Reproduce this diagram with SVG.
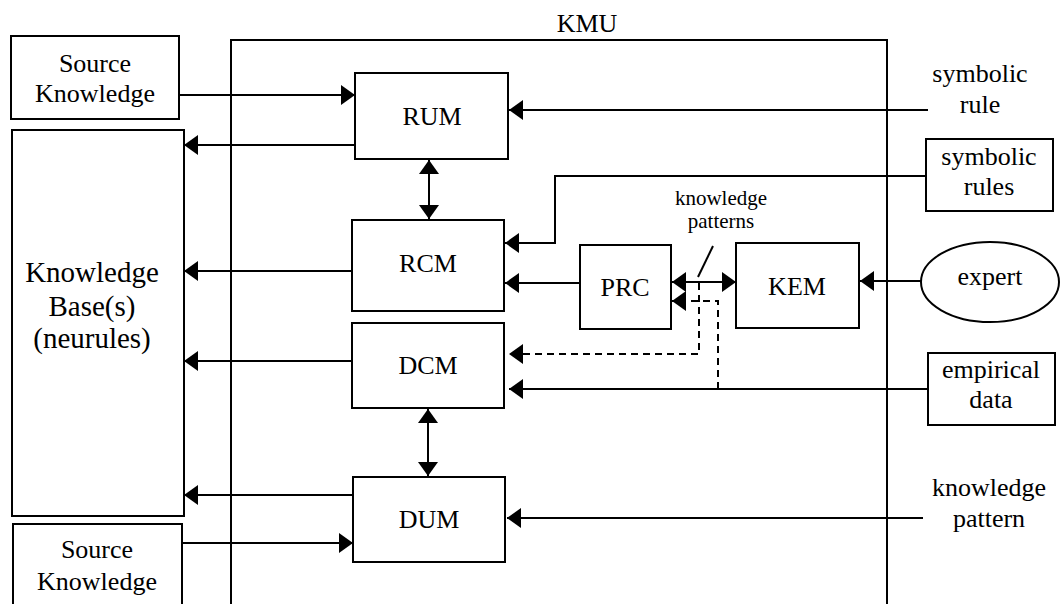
<svg xmlns="http://www.w3.org/2000/svg" width="1060" height="604" viewBox="0 0 1060 604" font-family="'Liberation Serif', 'Times New Roman', 'DejaVu Serif', serif">
<style>
text{font-family:'Liberation Serif','Times New Roman','DejaVu Serif',serif;font-size:26px;fill:#000;text-anchor:middle}
.kb{font-size:29px}
.sm{font-size:21px}
.box{fill:#fff;stroke:#000;stroke-width:2}
.ln{fill:none;stroke:#000;stroke-width:2}
.dash{fill:none;stroke:#000;stroke-width:2;stroke-dasharray:7,5}
.a{marker-end:url(#ah)}
.b{marker-start:url(#ahs);marker-end:url(#ah)}
</style>
<defs>
<marker id="ah" markerUnits="userSpaceOnUse" markerWidth="14" markerHeight="20" refX="14" refY="10" orient="auto"><path d="M0,0 L14,10 L0,20 z" fill="#000"/></marker>
<marker id="ahs" markerUnits="userSpaceOnUse" markerWidth="14" markerHeight="20" refX="0" refY="10" orient="auto"><path d="M14,0 L0,10 L14,20 z" fill="#000"/></marker>
</defs>
<rect width="1060" height="604" fill="#fff"/>

<g id="kmu">
<path class="ln" d="M231,610 V40 H887 V610"/>
<text x="587" y="32">KMU</text>
</g>

<g id="connectors">
<line class="ln a" x1="179" y1="95" x2="355" y2="95"/>
<line class="ln a" x1="355" y1="145" x2="184" y2="145"/>
<line class="ln a" x1="928" y1="110" x2="509" y2="110"/>
<line class="ln b" x1="429" y1="160" x2="429" y2="219"/>
<path class="ln a" d="M926,176 H555 V243 H505"/>
<line class="ln a" x1="352" y1="271" x2="184" y2="271"/>
<line class="ln a" x1="580" y1="283" x2="505" y2="283"/>
<line class="ln b" x1="672" y1="282" x2="736" y2="282"/>
<line class="ln a" x1="921" y1="281" x2="860" y2="281"/>
<line class="ln a" x1="352" y1="361" x2="184" y2="361"/>
<path class="dash a" d="M699,283 V354 H509"/>
<path class="dash a" d="M718,389 V301 H672"/>
<line class="ln a" x1="928" y1="389" x2="509" y2="389"/>
<line class="ln b" x1="428" y1="409" x2="428" y2="476"/>
<line class="ln a" x1="353" y1="495" x2="184" y2="495"/>
<line class="ln a" x1="182" y1="543" x2="353" y2="543"/>
<line class="ln a" x1="923" y1="518" x2="507" y2="518"/>
<line class="ln" x1="713" y1="246" x2="698" y2="277" stroke-width="1.5"/>
</g>

<g id="source1">
<rect class="box" x="11" y="36" width="168" height="83"/>
<text x="95" y="72">Source</text>
<text x="95" y="102">Knowledge</text>
</g>

<g id="kb">
<rect class="box" x="12" y="130" width="172" height="386"/>
<text class="kb" x="92" y="282">Knowledge</text>
<text class="kb" x="92" y="316">Base(s)</text>
<text class="kb" x="92" y="348">(neurules)</text>
</g>

<g id="source2">
<rect class="box" x="13" y="524" width="169" height="90"/>
<text x="97" y="558">Source</text>
<text x="97" y="590">Knowledge</text>
</g>

<g id="rum">
<rect class="box" x="355" y="73" width="153" height="86"/>
<text x="432" y="125">RUM</text>
</g>

<g id="rcm">
<rect class="box" x="352" y="220" width="152" height="91"/>
<text x="428" y="272">RCM</text>
</g>

<g id="dcm">
<rect class="box" x="352" y="323" width="152" height="85"/>
<text x="428" y="374">DCM</text>
</g>

<g id="dum">
<rect class="box" x="353" y="477" width="152" height="85"/>
<text x="429" y="528">DUM</text>
</g>

<g id="prc">
<rect class="box" x="580" y="245" width="91" height="84"/>
<text x="625" y="296">PRC</text>
</g>

<g id="kem">
<rect class="box" x="736" y="243" width="123" height="85"/>
<text x="797" y="295">KEM</text>
</g>

<g id="kp-label">
<text class="sm" x="721" y="205">knowledge</text>
<text class="sm" x="721" y="228">patterns</text>
</g>

<g id="symbolic-rule">
<text x="980" y="82">symbolic</text>
<text x="980" y="113">rule</text>
</g>

<g id="symbolic-rules">
<rect class="box" x="926" y="139" width="127" height="72"/>
<text x="989" y="165">symbolic</text>
<text x="989" y="195">rules</text>
</g>

<g id="expert">
<ellipse class="box" cx="990" cy="282" rx="69" ry="40"/>
<text x="990" y="285">expert</text>
</g>

<g id="empirical">
<rect class="box" x="928" y="353" width="127" height="72"/>
<text x="991" y="378">empirical</text>
<text x="991" y="408">data</text>
</g>

<g id="knowledge-pattern">
<text x="989" y="496">knowledge</text>
<text x="989" y="527">pattern</text>
</g>
</svg>
